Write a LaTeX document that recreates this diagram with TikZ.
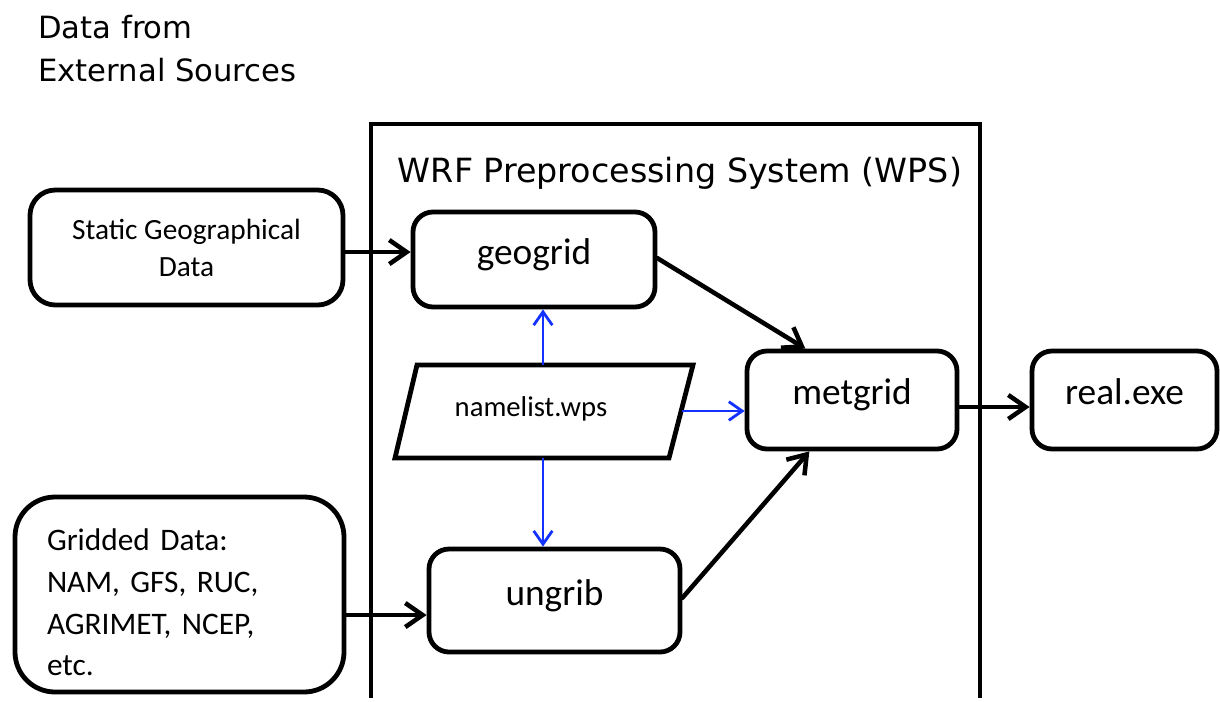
\documentclass[tikz,border=0pt]{standalone}
\usepackage{fontspec}
\setmainfont{Carlito}
\newfontfamily\comicfont{DejaVu Sans}
\usetikzlibrary{arrows.meta}
\definecolor{arrblue}{RGB}{20,50,255}
\begin{document}
\begin{tikzpicture}[x=0.75pt,y=-0.75pt,
  box/.style={draw, line width=3.6pt, rounded corners=15pt, inner sep=0pt, text height=16pt, text depth=9pt, font=\fontsize{28}{34}\selectfont},
  blk/.style={line width=3.4pt, line cap=round, -{Straight Barb[length=13pt,width=18pt,line width=3.4pt]}},
  blu/.style={line width=2.1pt, arrblue, -{Straight Barb[length=10pt,width=14pt,line width=2.1pt]}},
  plain/.style={inner sep=0pt}]
\useasboundingbox (0,0) rectangle (1220,701);
% external sources label
\node[plain, anchor=north west, align=left, font=\comicfont\fontsize{23}{32}\selectfont] (ext) at (38,15) {Data from\\External Sources};
% WPS frame
\draw[line width=3.6pt] (371,698) -- (371,124) coordinate (wpsTL) -- (980,124) -- (980,698);
\node[plain, font=\comicfont\fontsize{25}{30}\selectfont] (title) at (680,173) {WRF Preprocessing System (WPS)};
% boxes
\node[box, rounded corners=19pt, minimum width=234.75pt, minimum height=86.25pt, text height=, text depth=, align=center, font=\fontsize{22}{27.75}\selectfont] (static) at (186.5,247.5) {Static Geographical\\Data};
\node[box, minimum width=181.5pt, minimum height=71.25pt] (geogrid) at (534,259.5) {geogrid};
\node[box, minimum width=157.5pt, minimum height=73.5pt] (metgrid) at (852,400) {metgrid};
\node[box, minimum width=138.75pt, minimum height=73.5pt] (real) at (1124.5,400) {real.exe};
\node[box, minimum width=188.25pt, minimum height=77.25pt] (ungrib) at (554.5,600.5) {ungrib};
\node[box, rounded corners=30pt, minimum width=246.75pt, minimum height=146.25pt] (gridded) at (179.5,594.5) {};
\node[plain, text width=198.75pt, align=left, font=\fontsize{23.5}{31.2}\selectfont] (griddedtext) at (179.5,602.5) {Gridded Data:\\NAM, GFS, RUC,\\AGRIMET, NCEP,\\etc.};
% namelist parallelogram
\draw[line width=3.6pt, line join=miter] (417,365) -- (693,365) -- (669,458) -- (395,458) -- cycle;
\node[plain, font=\fontsize{21.5}{25}\selectfont] (namelist) at (531,409) {namelist.wps};
\coordinate (nlT) at (543,365);
\coordinate (nlB) at (543,458);
\coordinate (nlR) at (682,411);
% connectors
\coordinate (s1) at ([yshift=-3.4pt]static.east);
\draw[blk] (s1) -- (s1 -| geogrid.west);
\coordinate (g1) at ([yshift=-15.4pt]gridded.east);
\draw[blk] (g1) -- (g1 -| ungrib.west);
\coordinate (m1) at ([yshift=-5.25pt]metgrid.east);
\draw[blk] (m1) -- (m1 -| real.west);
\coordinate (gg1) at ([yshift=1pt]geogrid.east);
\coordinate (mt1) at ([xshift=-35pt]metgrid.north);
\draw[blk] (gg1) -- (mt1);
\coordinate (ug1) at ([yshift=2pt]ungrib.east);
\coordinate (mb1) at ([xshift=-32pt]metgrid.south);
\draw[blk] (ug1) -- (mb1);
\draw[blu] (nlT) -- (nlT |- geogrid.south);
\draw[blu] (nlB) -- (nlB |- ungrib.north);
\draw[blu] (nlR) -- (nlR -| metgrid.west);
\end{tikzpicture}
\end{document}
